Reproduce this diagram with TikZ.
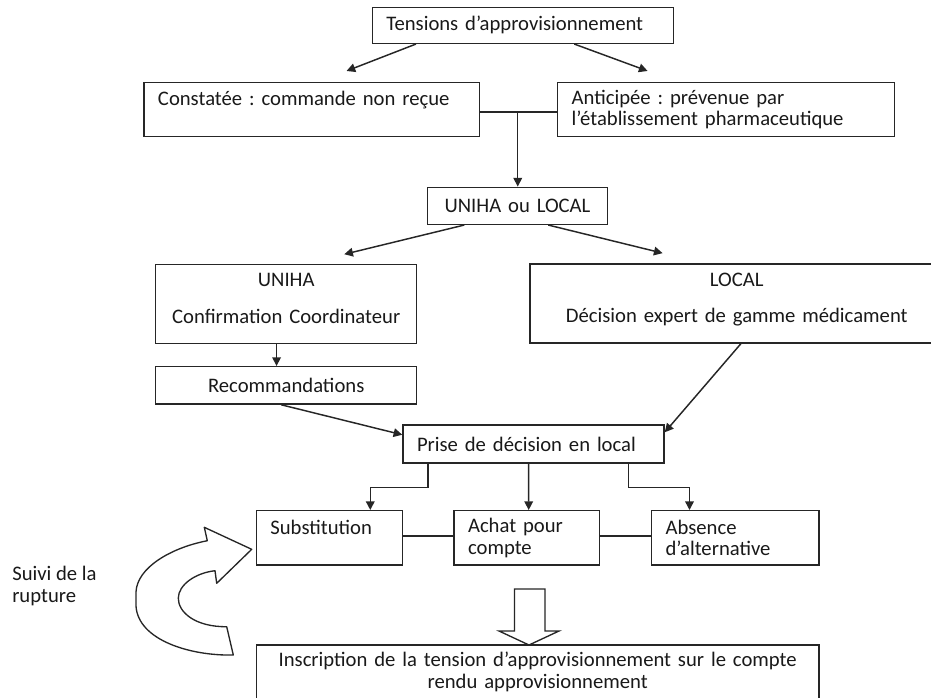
\documentclass[tikz,border=0pt]{standalone}
\usepackage{fontspec}
\setmainfont{Carlito}
\usetikzlibrary{arrows.meta,calc}
\frenchspacing
\begin{document}
\begin{tikzpicture}[x=0.75pt,y=-0.75pt,
  every node/.style={font=\fontsize{15.5pt}{16.3pt}\selectfont, text=black!90},
  box/.style={draw=black!85, line width=1.1pt, rectangle, inner ysep=0pt},
  lbox/.style={box, align=left, inner xsep=10.5pt},
  cbox/.style={box, align=center, inner xsep=0pt},
  arr/.style={draw=black!85, line width=1.1pt, -{Triangle[length=6.5pt,width=6.5pt]}},
  conn/.style={draw=black!85, line width=1.1pt},
  bigarrow/.style={draw=black!85, line width=1pt, fill=white}]
\useasboundingbox (0,0) rectangle (931,697);

% boxes
\node[lbox, text width=204.75pt, minimum height=27pt] (tens) at (522.8,25.3) {Tensions d’approvisionnement};
\node[lbox, text width=230.5pt, minimum height=40.8pt] (cons) at (311.65,109.5) {Constatée : commande non reçue\\\mbox{}};
\node[lbox, text width=231.45pt, minimum height=40.8pt] (anti) at (726,109.5) {Anticipée : prévenue par\\l’établissement pharmaceutique};
\node[cbox, text width=134.7pt, minimum height=27.75pt] (ul) at (517.5,205.8) {UNIHA ou LOCAL};
\node[cbox, text width=195.75pt, minimum height=59.25pt] (uniha) at (286.2,303.8) {UNIHA\\[11pt]Confirmation Coordinateur\\[-8pt]\mbox{}};
\node[cbox, text width=310pt, minimum height=59pt] (local) at (736.7,303.5) {LOCAL\\[11pt]Décision expert de gamme médicament\\[-8pt]\mbox{}};
\node[cbox, text width=195.75pt, minimum height=28pt] (reco) at (286.2,385.35) {Recommandations};
\node[lbox, text width=174.75pt, minimum height=28.5pt] (prise) at (533.5,444) {Prise de décision en local};
\node[lbox, text width=88.5pt, minimum height=40.7pt] (subst) at (329.4,537.85) {Substitution\\\mbox{}};
\node[lbox, text width=88pt, minimum height=40.7pt] (achat) at (526.7,537.85) {Achat pour\\compte};
\node[lbox, text width=104.5pt, minimum height=40.7pt] (absence) at (735.3,537.85) {Absence\\d’alternative};
\node[cbox, text width=421.95pt, minimum height=40.5pt] (inscr) at (537.7,672) {Inscription de la tension d’approvisionnement sur le compte\\rendu approvisionnement};
\node[align=left, anchor=west, inner sep=0pt] (suivi) at (12,586) {Suivi de la\\rupture};

% connectors
\draw[arr] ($(tens.south west)+(44.4,0)$) -- ($(cons.north west)+(203.3,-10.6)$);
\draw[arr] ($(tens.south west)+(202.7,0)$) -- ($(anti.north west)+(90.6,-10.6)$);
\draw[conn] ([yshift=-2pt]cons.east) -- ([yshift=-2pt]anti.west);
\coordinate (j1) at ($([yshift=-2pt]cons.east)!0.49!([yshift=-2pt]anti.west)$);
\draw[arr] (j1) -- (j1 |- ul.north);
\draw[arr] ($(ul.south west)+(37.3,0)$) -- ($(uniha.north west)+(189.3,-9.3)$);
\draw[arr] ($(ul.south west)+(121.3,0)$) -- ($(local.north west)+(133.3,-10.3)$);
\draw[arr] ($(uniha.south west)+(121.6,0)$) -- ($(reco.north west)+(121.6,0)$);
\draw[arr] ($(reco.south west)+(126.2,0)$) -- ($(prise.north west)+(0,10.5)$);
\draw[arr] ($(local.south west)+(211.7,0)$) -- ($(prise.north east)+(0,8)$);
\draw[arr] ($(prise.south west)+(25.5,0)$) -- ++(0,23.7) -| ($(subst.north west)+(114.6,0)$);
\draw[arr] ($(prise.south west)+(126.4,0)$) -- ($(achat.north west)+(75.4,0)$);
\draw[arr] ($(prise.south west)+(226,0)$) -- ++(0,23.7) -| ($(absence.north west)+(38.6,0)$);
\draw[conn] ([yshift=1.4pt]subst.east) -- ([yshift=1.4pt]achat.west);
\draw[conn] ([yshift=1.4pt]achat.east) -- ([yshift=1.4pt]absence.west);

% block arrow down
\draw[bigarrow] (514.5,589) -- (545,589) -- (545,631) -- (559,631) -- (529,645) -- (499,631) -- (514.5,631) -- cycle;

% curved arrow
\draw[bigarrow, line join=round] (251.7,549.3) -- (204.3,527.3) -- (207.3,540.7)
  .. controls (170,548) and (137,568) .. (136,592)
  -- (136,606)
  .. controls (138,640) and (190,656) .. (233.3,655)
  -- (226.7,626.7)
  .. controls (195,627) and (178,612) .. (178.3,598)
  .. controls (178.5,585) and (195,573) .. (215,570.7)
  -- (216.7,583.3) -- cycle;
\end{tikzpicture}
\end{document}
